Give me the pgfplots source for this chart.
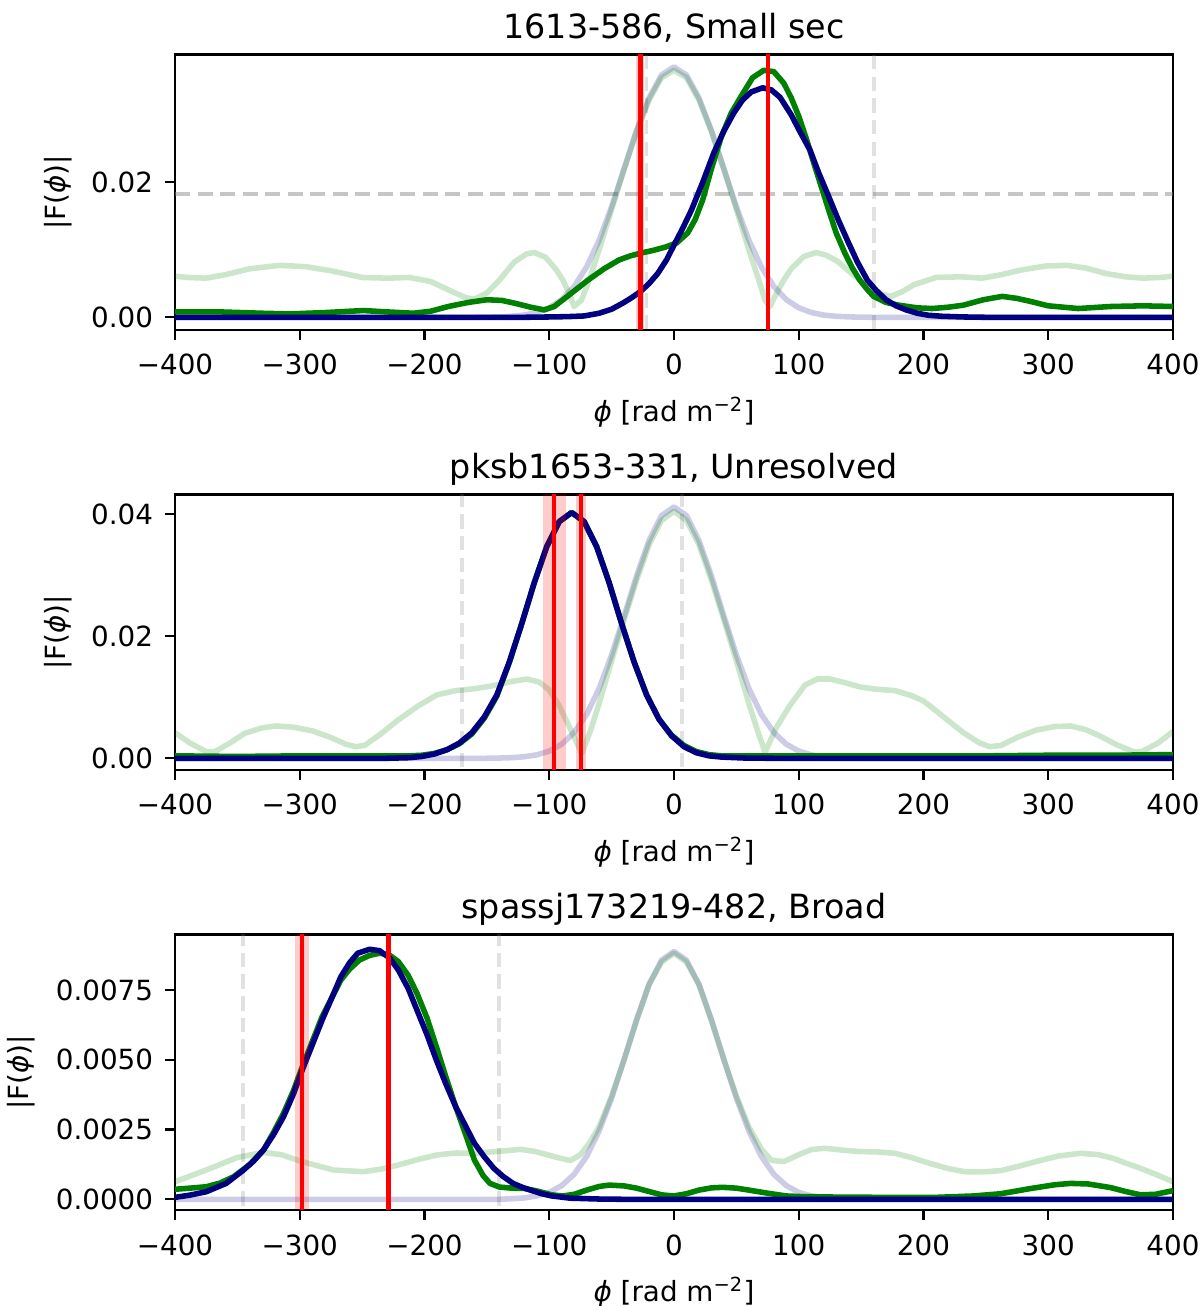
\documentclass[border=0pt]{standalone}
\usepackage{fontspec}
\setmainfont{DejaVu Sans}
\usepackage{pgfplots}
\pgfplotsset{compat=1.18}
\definecolor{mgreen}{RGB}{0,128,0}
\definecolor{mnavy}{RGB}{0,0,128}
\definecolor{mred}{RGB}{255,0,0}
\newcommand{\ph}{\textit{ϕ}}
\pgfplotsset{
 panel/.style={
  scale only axis, width=359.28bp, height=99.2bp,
  xmin=-400,xmax=400,
  xtick={-400,-300,-200,-100,0,100,200,300,400},
  xticklabels={−400,−300,−200,−100,0,100,200,300,400},
  scaled ticks=false,
  tick pos=left, tick align=outside,
  major tick length=3.5bp,
  every tick/.style={black, line width=0.8bp},
  axis line style={black, line width=0.8bp},
  ticklabel style={font=\fontsize{10bp}{12bp}\selectfont, inner sep=0pt, outer sep=0pt, text height=7.3bp, text depth=0pt},
  xticklabel style={anchor=north, yshift=-5.4bp},
  yticklabel style={anchor=east, xshift=-4.4bp},
  every axis title/.style={at={(axis description cs:0.5,1)}, anchor=base, yshift=5.76bp, inner sep=0pt, font=\fontsize{12bp}{14bp}\selectfont},
  every axis x label/.style={at={(axis description cs:0.5,0)}, anchor=base, yshift=-33bp, inner sep=0pt, font=\fontsize{10bp}{12bp}\selectfont},
  every axis y label/.style={at={(axis description cs:0,0.5)}, xshift=-42.1bp, rotate=90, anchor=center, inner sep=0pt, font=\fontsize{10bp}{12bp}\selectfont},
  xlabel={\ph{} [rad m\textsuperscript{−2}]},
  ylabel={|F(\ph)|},
 },
 lb/.style={mnavy, opacity=0.2, line width=2bp, no marks, line join=round},
 lg/.style={mgreen, opacity=0.2, line width=2bp, no marks, line join=round},
 dg/.style={mgreen, line width=2bp, no marks, line join=round},
 db/.style={mnavy, line width=2bp, no marks, line join=round},
 rl/.style={mred, line width=1.6bp, no marks},
 rb/.style={fill=mred, fill opacity=0.2, draw=none, no marks},
 gv/.style={gray, opacity=0.24, line width=1.4bp, dash pattern=on 5.2bp off 2.6bp, no marks},
 gh/.style={gray, opacity=0.45, line width=1.5bp, dash pattern=on 5.5bp off 2.6bp, no marks},
}
\begin{document}
\begin{tikzpicture}
% ---------------- Panel 1
\begin{axis}[panel, at={(63bp,351.36bp)}, anchor=south west,
  ymin=-0.00188, ymax=0.03895, ytick={0,0.02}, yticklabels={0.00,0.02},
  title={1613-586, Small sec}]
\addplot[gh] coordinates {(-400,0.0183) (400,0.0183)};
\addplot[gv] coordinates {(-22,-0.005) (-22,0.05)};
\addplot[gv] coordinates {(160.4,-0.005) (160.4,0.05)};
\addplot[lb] coordinates {(-400,0) (-160,0) (-150,0.00002) (-140,0.00006) (-130,0.00015) (-120,0.00033) (-110,0.00071) (-100,0.00141) (-90,0.00262) (-80,0.00457) (-70,0.00748) (-60,0.01143) (-50,0.01638) (-40,0.0220) (-30,0.0277) (-20,0.0325) (-10,0.0359) (0,0.0371) (10,0.0359) (20,0.0325) (30,0.0277) (40,0.0220) (50,0.01638) (60,0.01143) (70,0.00748) (80,0.00457) (90,0.00262) (100,0.00141) (110,0.00071) (120,0.00033) (130,0.00015) (140,0.00006) (150,0.00002) (160,0) (400,0)};
\addplot[lg] coordinates {(-400,0.0061) (-390,0.0059) (-375,0.0058) (-360,0.0063) (-340,0.0072) (-316,0.0077) (-295,0.0075) (-275,0.0069) (-250,0.0059) (-230,0.0058) (-212,0.0059) (-195,0.0053) (-180,0.0040) (-167,0.0029) (-160,0.0027) (-150,0.0036) (-140,0.0055) (-128,0.0082) (-118,0.0094) (-112,0.0096) (-103,0.0089) (-95,0.0072) (-89,0.0055) (-84,0.0035) (-80,0.0016) (-74,0.0026) (-68,0.0055) (-60,0.0100) (-50,0.0160) (-40,0.0219) (-30,0.0275) (-20,0.0322) (-10,0.0355) (0,0.0366) (10,0.0355) (20,0.0322) (30,0.0275) (40,0.0219) (50,0.0160) (60,0.0100) (68,0.0055) (73,0.0025) (77,0.0016) (82,0.0035) (88,0.0055) (94,0.0072) (104,0.0090) (114,0.0096) (122,0.0092) (131,0.0083) (143,0.0064) (155,0.0046) (165,0.0035) (174,0.0031) (183,0.0038) (192,0.0048) (210,0.0059) (230,0.0060) (247,0.0058) (262,0.0063) (278,0.0070) (298,0.0076) (315,0.0077) (330,0.0073) (346,0.0065) (362,0.0060) (376,0.0058) (390,0.0059) (400,0.0061)};
\addplot[dg] coordinates {(-400,0.0008) (-364,0.0008) (-330,0.0006) (-308,0.0005) (-280,0.0007) (-249,0.0010) (-230,0.0008) (-209,0.0006) (-195,0.0009) (-181,0.0016) (-165,0.0022) (-150,0.0026) (-138,0.0025) (-128,0.0021) (-115,0.0015) (-104,0.0011) (-96,0.0016) (-89,0.0026) (-80,0.0039) (-69,0.0055) (-56,0.0072) (-44,0.0085) (-35,0.0091) (-27,0.0095) (-17,0.0099) (-7,0.0104) (2,0.0110) (11,0.0125) (17,0.0145) (23,0.0174) (30,0.0220) (38,0.0268) (46,0.0303) (54,0.0328) (63,0.0355) (72,0.0366) (80,0.0364) (88,0.0347) (94,0.0325) (100,0.0298) (106,0.0265) (112,0.0229) (118,0.0194) (124,0.0159) (130,0.0125) (137,0.0095) (143,0.0073) (149,0.0055) (155,0.0041) (160,0.0031) (170,0.0022) (180,0.0018) (195,0.0014) (207,0.0013) (220,0.0015) (232,0.0018) (248,0.0026) (263,0.0031) (275,0.0028) (287,0.0023) (300,0.0017) (324,0.0013) (350,0.0016) (376,0.0017) (400,0.0016)};
\addplot[db] coordinates {(-400,0) (-120,0) (-100,0.00005) (-85,0.0001) (-72,0.0002) (-60,0.0006) (-50,0.0012) (-41,0.0021) (-34,0.0029) (-27,0.0038) (-20,0.0050) (-13,0.0065) (-6,0.0085) (0,0.0107) (7,0.0132) (14,0.0159) (23,0.0200) (32,0.0244) (40,0.0276) (48,0.0303) (55,0.0322) (62,0.0334) (71,0.0340) (78,0.0337) (85,0.0326) (94,0.0300) (101,0.0275) (109,0.0248) (116,0.0214) (124,0.0179) (132,0.0143) (140,0.0110) (147,0.0082) (155,0.0055) (162,0.0040) (170,0.0026) (178,0.0017) (186,0.0011) (195,0.0006) (204,0.0003) (215,0.00015) (232,0.00005) (250,0) (400,0)};
\addplot[rb] coordinates {(-30.7,-0.005) (-23.7,-0.005) (-23.7,0.05) (-30.7,0.05)} -- cycle;
\addplot[rl] coordinates {(-26.7,-0.005) (-26.7,0.05)};
\addplot[rl] coordinates {(75.3,-0.005) (75.3,0.05)};
\end{axis}
% ---------------- Panel 2
\begin{axis}[panel, at={(63bp,192.96bp)}, anchor=south west,
  ymin=-0.00192, ymax=0.04326, ytick={0,0.02,0.04}, yticklabels={0.00,0.02,0.04},
  title={pksb1653-331, Unresolved}]
\addplot[gv] coordinates {(-170.2,-0.005) (-170.2,0.05)};
\addplot[gv] coordinates {(6.5,-0.005) (6.5,0.05)};
\addplot[lb] coordinates {(-400,0) (-150,0) (-140,0.00004) (-130,0.0001) (-120,0.00025) (-110,0.00056) (-100,0.00118) (-90,0.00231) (-80,0.00423) (-70,0.00722) (-60,0.01145) (-50,0.01694) (-40,0.0233) (-30,0.0299) (-20,0.0357) (-10,0.0398) (0,0.0412) (10,0.0398) (20,0.0357) (30,0.0299) (40,0.0233) (50,0.01694) (60,0.01145) (70,0.00722) (80,0.00423) (90,0.00231) (100,0.00118) (110,0.00056) (120,0.00025) (130,0.0001) (140,0.00004) (150,0) (400,0)};
\addplot[lg] coordinates {(-400,0.0042) (-388,0.0025) (-375,0.0011) (-368,0.0011) (-356,0.0025) (-344,0.0041) (-330,0.0050) (-319,0.0053) (-305,0.0051) (-290,0.0045) (-275,0.0034) (-263,0.0023) (-255,0.0019) (-248,0.0021) (-235,0.0040) (-221,0.0063) (-205,0.0086) (-190,0.0104) (-175,0.0111) (-160,0.0114) (-145,0.0119) (-130,0.0126) (-118,0.0130) (-108,0.0125) (-100,0.0112) (-92,0.0086) (-83,0.0048) (-74,0.0008) (-67,0.0045) (-60,0.0090) (-50,0.0160) (-40,0.0227) (-30,0.0292) (-20,0.0350) (-10,0.0390) (0,0.0405) (10,0.0390) (20,0.0350) (30,0.0292) (40,0.0227) (50,0.0160) (60,0.0090) (67,0.0045) (73,0.0010) (82,0.0050) (93,0.0087) (105,0.0120) (115,0.0130) (125,0.0130) (137,0.0124) (149,0.0117) (163,0.0113) (177,0.0111) (190,0.0103) (200,0.0094) (210,0.0078) (219,0.0063) (232,0.0042) (245,0.0025) (253,0.0019) (262,0.0021) (276,0.0035) (290,0.0046) (305,0.0052) (318,0.0053) (330,0.0047) (340,0.0038) (355,0.0022) (368,0.0011) (375,0.0011) (388,0.0025) (400,0.0044)};
\addplot[dg] coordinates {(-400,0.0004) (-350,0.0003) (-300,0.0004) (-250,0.0004) (-222,0.0004) (-212,0.0004) (-202,0.0005) (-192,0.0008) (-182,0.0014) (-172,0.0024) (-162,0.0040) (-152,0.0066) (-142,0.0102) (-132,0.0157) (-122,0.0221) (-112,0.0288) (-102,0.0347) (-92,0.0388) (-82,0.0403) (-72,0.0388) (-62,0.0347) (-52,0.0288) (-42,0.0221) (-32,0.0158) (-22,0.0104) (-12,0.0064) (-2,0.0038) (8,0.0021) (18,0.0011) (28,0.0006) (38,0.0004) (58,0.0004) (100,0.0004) (150,0.0004) (200,0.0004) (250,0.0004) (300,0.0005) (350,0.0005) (400,0.0006)};
\addplot[db] coordinates {(-400,0) (-230,0) (-212,0.0001) (-202,0.0003) (-192,0.0007) (-182,0.0014) (-172,0.0025) (-162,0.0042) (-152,0.0068) (-142,0.0104) (-132,0.0158) (-122,0.0221) (-112,0.0288) (-102,0.0347) (-92,0.0388) (-82,0.0403) (-72,0.0388) (-62,0.0347) (-52,0.0288) (-42,0.0221) (-32,0.0158) (-22,0.0104) (-12,0.0064) (-2,0.0037) (8,0.0019) (18,0.0009) (28,0.0004) (38,0.0002) (58,0.00003) (80,0) (400,0)};
\addplot[rb] coordinates {(-104.8,-0.005) (-86.7,-0.005) (-86.7,0.05) (-104.8,0.05)} -- cycle;
\addplot[rb] coordinates {(-78.7,-0.005) (-70.4,-0.005) (-70.4,0.05) (-78.7,0.05)} -- cycle;
\addplot[rl] coordinates {(-96.2,-0.005) (-96.2,0.05)};
\addplot[rl] coordinates {(-74.4,-0.005) (-74.4,0.05)};
\end{axis}
% ---------------- Panel 3
\begin{axis}[panel, at={(63bp,34.56bp)}, anchor=south west,
  ymin=-0.000383, ymax=0.009492, ytick={0,0.0025,0.005,0.0075}, yticklabels={0.0000,0.0025,0.0050,0.0075},
  title={spassj173219-482, Broad},
  every axis y label/.style={at={(axis description cs:0,0.5)}, xshift=-55.4bp, rotate=90, anchor=center, inner sep=0pt, font=\fontsize{10bp}{12bp}\selectfont}]
\addplot[gv] coordinates {(-345.6,-0.001) (-345.6,0.011)};
\addplot[gv] coordinates {(-140,-0.001) (-140,0.011)};
\addplot[lb] coordinates {(-400,0) (-140,0) (-130,0.00002) (-120,0.00005) (-110,0.00012) (-100,0.00025) (-90,0.00049) (-80,0.0009) (-70,0.00154) (-60,0.00245) (-50,0.00363) (-40,0.00501) (-30,0.00644) (-20,0.0077) (-10,0.00857) (0,0.00888) (10,0.00857) (20,0.0077) (30,0.00644) (40,0.00501) (50,0.00363) (60,0.00245) (70,0.00154) (80,0.0009) (90,0.00049) (100,0.00025) (110,0.00012) (120,0.00005) (130,0.00002) (140,0) (400,0)};
\addplot[lg] coordinates {(-400,0.00063) (-375,0.00105) (-350,0.0015) (-329,0.00168) (-315,0.00160) (-298,0.00135) (-273,0.00105) (-249,0.00099) (-235,0.00108) (-221,0.00123) (-205,0.00143) (-190,0.00159) (-175,0.00166) (-160,0.00165) (-140,0.00172) (-123,0.00179) (-112,0.00172) (-101,0.00159) (-92,0.00148) (-83,0.00139) (-75,0.0016) (-68,0.0020) (-60,0.0026) (-50,0.0037) (-40,0.0050) (-30,0.0064) (-20,0.0077) (-10,0.0085) (0,0.00882) (10,0.0085) (20,0.0077) (30,0.0064) (40,0.0050) (50,0.0037) (60,0.0026) (70,0.0018) (78,0.0014) (88,0.00135) (100,0.0016) (110,0.00178) (121,0.00183) (135,0.00176) (149,0.00171) (163,0.00170) (177,0.00165) (190,0.00150) (205,0.00129) (220,0.00110) (233,0.00099) (248,0.00098) (262,0.00103) (276,0.00118) (290,0.00135) (308,0.00155) (326,0.00165) (340,0.00160) (352,0.00147) (362,0.00130) (374,0.00111) (387,0.00088) (400,0.00063)};
\addplot[dg] coordinates {(-400,0.00036) (-388,0.0004) (-375,0.00045) (-364,0.00058) (-353,0.00081) (-340,0.00125) (-329,0.00177) (-321,0.00240) (-313,0.00308) (-305,0.00390) (-298,0.00475) (-290,0.00565) (-282,0.00655) (-274,0.00725) (-267,0.00786) (-260,0.00825) (-252,0.00858) (-244,0.00874) (-236,0.00882) (-228,0.00875) (-221,0.00852) (-213,0.00802) (-206,0.00738) (-198,0.00650) (-190.5,0.00547) (-183,0.00440) (-175,0.00332) (-167,0.00232) (-160,0.00141) (-153,0.00085) (-147.5,0.00057) (-140,0.00044) (-130,0.0004) (-120,0.00039) (-110,0.0003) (-98,0.00016) (-89,0.00012) (-80,0.00018) (-70,0.00033) (-60,0.00046) (-52,0.00051) (-40,0.00048) (-30,0.0004) (-20,0.00028) (-10,0.00016) (0,0.00012) (10,0.0002) (20,0.00033) (30,0.00041) (39,0.00043) (50,0.0004) (60,0.00033) (75,0.00022) (90,0.00012) (101,0.0001) (130,0.00008) (170,0.00007) (210,0.00007) (240,0.00012) (262,0.0002) (285,0.00038) (305,0.00052) (318,0.00057) (332,0.00055) (350,0.00042) (362,0.00028) (374,0.00016) (386,0.00018) (400,0.00031)};
\addplot[db] coordinates {(-400,0.00007) (-388,0.00015) (-375,0.00027) (-359,0.00057) (-345.6,0.00103) (-337,0.00137) (-329,0.00177) (-321,0.00232) (-313,0.00296) (-305,0.00378) (-298,0.00463) (-290,0.00553) (-282,0.00643) (-274,0.00725) (-267,0.00798) (-260,0.00848) (-253.5,0.00882) (-244,0.00896) (-236,0.00891) (-228,0.00865) (-221,0.00822) (-213,0.00755) (-206,0.00678) (-198,0.00590) (-190.5,0.00499) (-183,0.00415) (-175,0.00332) (-167,0.00262) (-160,0.00201) (-152,0.00152) (-144.4,0.00111) (-137,0.00082) (-129,0.00057) (-121,0.00042) (-113.7,0.00031) (-106,0.0002) (-98,0.00012) (-83,0.00004) (-60,0.00001) (-40,0) (400,0)};
\addplot[rb] coordinates {(-303.5,-0.001) (-292.5,-0.001) (-292.5,0.011) (-303.5,0.011)} -- cycle;
\addplot[rb] coordinates {(-231,-0.001) (-226.5,-0.001) (-226.5,0.011) (-231,0.011)} -- cycle;
\addplot[rl] coordinates {(-298,-0.001) (-298,0.011)};
\addplot[rl] coordinates {(-228.8,-0.001) (-228.8,0.011)};
\end{axis}
\pgfresetboundingbox
\useasboundingbox (0,0) rectangle (432bp,470.16bp);
\end{tikzpicture}
\end{document}
